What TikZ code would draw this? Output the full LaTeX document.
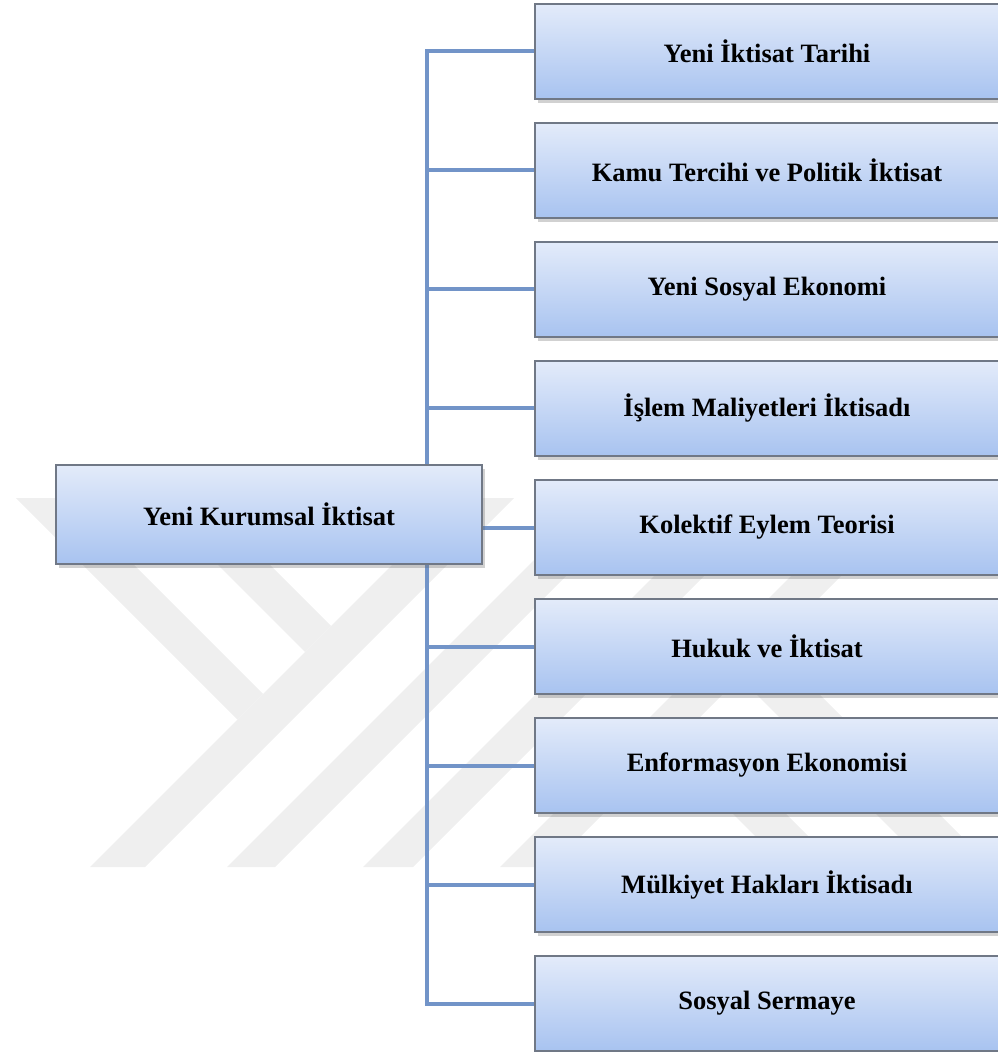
\documentclass[tikz,border=0pt]{standalone}
\usepackage{fontspec}
\setmainfont{Liberation Serif}
\usetikzlibrary{shadows}
\pgfdeclarelayer{background}
\pgfsetlayers{background,main}
\definecolor{kutuust}{RGB}{227,235,250}
\definecolor{kutualt}{RGB}{168,195,240}
\definecolor{kenar}{RGB}{112,120,134}
\definecolor{baglanti}{RGB}{114,148,200}
\definecolor{filigran}{RGB}{239,239,239}

\begin{document}
\begin{tikzpicture}[x=0.5pt,y=-0.5pt,
  kutu/.style={draw=kenar, line width=0.7pt, top color=kutuust, bottom color=kutualt,
    minimum width=232pt, minimum height=47.5pt, inner sep=0pt,
    font=\bfseries\fontsize{13.25}{16}\selectfont,
    drop shadow={shadow xshift=1.5pt, shadow yshift=-2pt, opacity=0.3, fill=black!60}},
  kok/.style={kutu, minimum width=213pt, minimum height=49.5pt},
  hat/.style={draw=baglanti, line width=2pt, line join=miter}]
\useasboundingbox (0,0) rectangle (997,1052);

% kutular
\node[kok] (kurumsal) at (269,514.5) {Yeni Kurumsal İktisat};
\node[kutu] (tarih) at (767,51.5) {Yeni İktisat Tarihi};
\node[kutu] (kamu) at (767,170.5) {Kamu Tercihi ve Politik İktisat};
\node[kutu] (sosyal) at (767,289.5) {Yeni Sosyal Ekonomi};
\node[kutu] (islem) at (767,408.5) {İşlem Maliyetleri İktisadı};
\node[kutu] (kolektif) at (767,527.5) {Kolektif Eylem Teorisi};
\node[kutu] (hukuk) at (767,646.5) {Hukuk ve İktisat};
\node[kutu] (enformasyon) at (767,765.5) {Enformasyon Ekonomisi};
\node[kutu] (mulkiyet) at (767,884.5) {Mülkiyet Hakları İktisadı};
\node[kutu] (sermaye) at (767,1003.5) {Sosyal Sermaye};
\coordinate (govde) at (427,500);

\begin{pgfonlayer}{background}
% filigran
\fill[filigran] (90,867) -- (145,867) -- (514,498) -- (459,498) -- cycle;
\fill[filigran] (227,867) -- (275,867) -- (644,498) -- (596,498) -- cycle;
\fill[filigran] (363,867) -- (413,867) -- (782,498) -- (732,498) -- cycle;
\fill[filigran] (500,867) -- (550,867) -- (919,498) -- (869,498) -- cycle;
\fill[filigran] (16,498) -- (67,498) -- (263,694) -- (237.5,719.5) -- cycle;
\fill[filigran] (151,498) -- (203,498) -- (331,626) -- (305,652) -- cycle;
\fill[filigran] (694.5,722.5) -- (668,749) -- (786,867) -- (839,867) -- cycle;
\fill[filigran] (771,646) -- (739.5,677.5) -- (929,867) -- (992,867) -- cycle;

% baglantilar
\draw[hat] (tarih.west) -- (tarih.west -| govde) -- (sermaye.west -| govde) -- (sermaye.west);
\draw[hat] (kamu.west -| govde) -- (kamu.west);
\draw[hat] (sosyal.west -| govde) -- (sosyal.west);
\draw[hat] (islem.west -| govde) -- (islem.west);
\draw[hat] (kolektif.west -| kurumsal.east) -- (kolektif.west);
\draw[hat] (hukuk.west -| govde) -- (hukuk.west);
\draw[hat] (enformasyon.west -| govde) -- (enformasyon.west);
\draw[hat] (mulkiyet.west -| govde) -- (mulkiyet.west);
\end{pgfonlayer}
\end{tikzpicture}
\end{document}
